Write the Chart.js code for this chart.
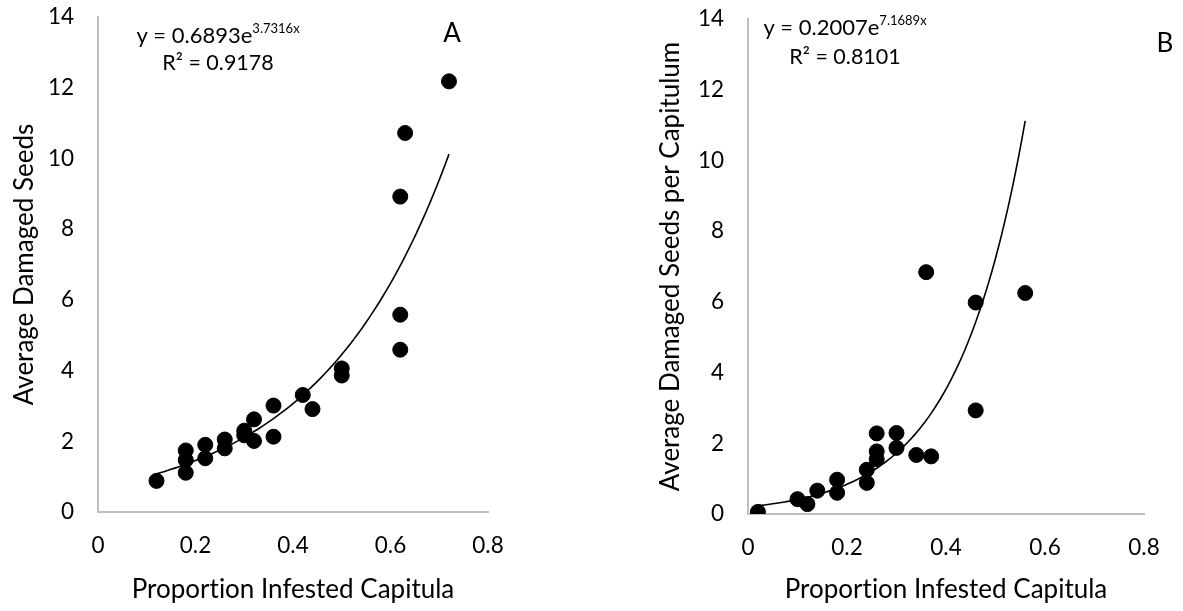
<!DOCTYPE html>
<html>
<head>
<meta charset="utf-8">
<script src="https://cdn.jsdelivr.net/npm/chart.js@4.4.1/dist/chart.umd.min.js"></script>
<style>
    html, body { margin: 0; padding: 0; background: #fff; }
    #wrap { position: relative; width: 1183px; height: 611px; }
    .box { position: absolute; top: 0; height: 611px; }
    #boxA { left: 0; width: 600px; }
    #boxB { left: 600px; width: 583px; }
</style>
</head>
<body>
<div id="wrap">
    <div class="box" id="boxA"><canvas id="chartA"></canvas></div>
    <div class="box" id="boxB"><canvas id="chartB"></canvas></div>
</div>
<script>
// panel A - average damaged seeds vs proportion of capitula infested
const propA  = [0.12, 0.18, 0.18, 0.18, 0.22, 0.22, 0.26, 0.26, 0.30, 0.30, 0.32, 0.32, 0.36, 0.36, 0.42, 0.44, 0.50, 0.50, 0.62, 0.62, 0.62, 0.63, 0.72];
const seedsA = [0.88, 1.74, 1.47, 1.11, 1.90, 1.52, 2.05, 1.80, 2.30, 2.17, 2.62, 2.01, 3.01, 2.13, 3.31, 2.91, 4.06, 3.86, 4.59, 5.58, 8.92, 10.72, 12.18];
const fitA = [0.6893, 3.7316];   // y = a * e^(b x)
const r2A = '0.9178';

// panel B - average damaged seeds per capitulum
const propB  = [0.02, 0.10, 0.12, 0.14, 0.18, 0.18, 0.24, 0.24, 0.26, 0.26, 0.26, 0.30, 0.30, 0.34, 0.37, 0.36, 0.46, 0.46, 0.56];
const seedsB = [0.06, 0.42, 0.28, 0.66, 0.97, 0.60, 1.25, 0.88, 2.28, 1.77, 1.55, 2.29, 1.87, 1.67, 1.63, 6.84, 5.98, 2.93, 6.25];
const fitB = [0.2007, 7.1689];
const r2B = '0.8101';

const xTicks = [0, 0.2, 0.4, 0.6, 0.8];
const yTicks = [0, 2, 4, 6, 8, 10, 12, 14];

Chart.defaults.font.family = 'Lato, "Open Sans", sans-serif';
Chart.defaults.color = '#000';

function toPoints(xs, ys) {
    return xs.map((x, i) => ({ x: x, y: ys[i] }));
}

// exponential trendline from the stated coefficients, over the data range
function trendPoints(xs, fit) {
    const lo = Math.min(...xs), hi = Math.max(...xs);
    const pts = [];
    for (let i = 0; i <= 80; i++) {
        const x = lo + (hi - lo) * i / 80;
        pts.push({ x: x, y: fit[0] * Math.exp(fit[1] * x) });
    }
    return pts;
}

// Lato joins "ti" into a ligature, switch that off
const plainText = {
    id: 'plainText',
    beforeDraw(chart) {
        chart.ctx.textRendering = 'optimizeSpeed';
    }
};

// equation, R² and panel letter
const fitLabel = {
    id: 'fitLabel',
    afterDraw(chart) {
        const o = chart.options.plugins.fitLabel;
        const ctx = chart.ctx;
        ctx.save();
        ctx.fillStyle = '#000';
        ctx.textBaseline = 'alphabetic';

        const main = 'y = ' + o.fit[0] + 'e';
        const sup = o.fit[1] + 'x';
        ctx.font = '22px Lato';
        const w1 = ctx.measureText(main).width;
        ctx.font = '13px Lato';
        const w2 = ctx.measureText(sup).width;
        let x = o.cx - (w1 + w2) / 2;
        ctx.textAlign = 'left';
        ctx.font = '22px Lato';
        ctx.fillText(main, x, o.y1);
        ctx.font = '13px Lato';
        ctx.fillText(sup, x + w1, o.y1 - 10);

        ctx.font = '21.5px Lato';
        ctx.textAlign = 'center';
        ctx.fillText('R\u00B2 = ' + o.r2, o.cx, o.y2);

        ctx.font = '26px Lato';
        ctx.fillText(o.letter, o.lx, o.ly);
        ctx.restore();
    }
};

function makeChart(id, xs, ys, fit, r2, cfg) {
    return new Chart(document.getElementById(id), {
        type: 'scatter',
        data: {
            datasets: [
                {
                    data: toPoints(xs, ys),
                    backgroundColor: '#000',
                    borderColor: '#000',
                    pointRadius: 7.5,
                    pointHoverRadius: 7.5
                },
                {
                    type: 'line',
                    data: trendPoints(xs, fit),
                    borderColor: '#000',
                    borderWidth: 1.6,
                    pointRadius: 0,
                    fill: false,
                    tension: 0
                }
            ]
        },
        options: {
            responsive: true,
            maintainAspectRatio: false,
            animation: false,
            layout: { padding: cfg.padding },
            plugins: {
                legend: { display: false },
                tooltip: { enabled: false },
                fitLabel: Object.assign({ fit: fit, r2: r2 }, cfg.label)
            },
            scales: {
                x: {
                    type: 'linear',
                    min: 0, max: 0.8,
                    afterBuildTicks: s => { s.ticks = xTicks.map(v => ({ value: v })); },
                    afterFit: s => {
                        s.height = cfg.xHeight;
                        s.paddingLeft = 0;
                        s.paddingRight = 0;
                    },
                    grid: { display: false, drawTicks: false },
                    border: { display: true, color: '#bfbfbf', width: 2 },
                    ticks: {
                        padding: 20,
                        font: { size: 22.5 },
                        callback: v => String(v)
                    },
                    title: {
                        display: true,
                        text: 'Proportion Infested Capitula',
                        font: { size: 26 },
                        padding: { top: 0, bottom: 6 }
                    }
                },
                y: {
                    type: 'linear',
                    min: 0, max: 14,
                    afterBuildTicks: s => { s.ticks = yTicks.map(v => ({ value: v })); },
                    afterFit: s => {
                        s.width = cfg.yWidth;
                        s.paddingTop = 0;
                        s.paddingBottom = 0;
                    },
                    grid: { display: false, drawTicks: false },
                    border: { display: true, color: '#bfbfbf', width: 2 },
                    ticks: {
                        padding: 24,
                        font: { size: 22.5 },
                        callback: v => String(v)
                    },
                    title: {
                        display: true,
                        text: cfg.yTitle,
                        font: { size: 26 },
                        padding: { top: cfg.yTitlePad, bottom: 0 }
                    }
                }
            }
        },
        plugins: [plainText, fitLabel]
    });
}

makeChart('chartA', propA, seedsA, fitA, r2A, {
    padding: { top: 17, right: 112, bottom: 0, left: 0 },
    xHeight: 99,
    yWidth: 98,
    yTitle: 'Average Damaged Seeds',
    yTitlePad: 9,
    label: { cx: 218, y1: 43, y2: 70, letter: 'A', lx: 452, ly: 42 }
});

makeChart('chartB', propB, seedsB, fitB, r2B, {
    padding: { top: 19, right: 39, bottom: 0, left: 0 },
    xHeight: 97,
    yWidth: 148,
    yTitle: 'Average Damaged Seeds per Capitulum',
    yTitlePad: 55,
    label: { cx: 245, y1: 35, y2: 64, letter: 'B', lx: 565, ly: 52 }
});
</script>
</body>
</html>
